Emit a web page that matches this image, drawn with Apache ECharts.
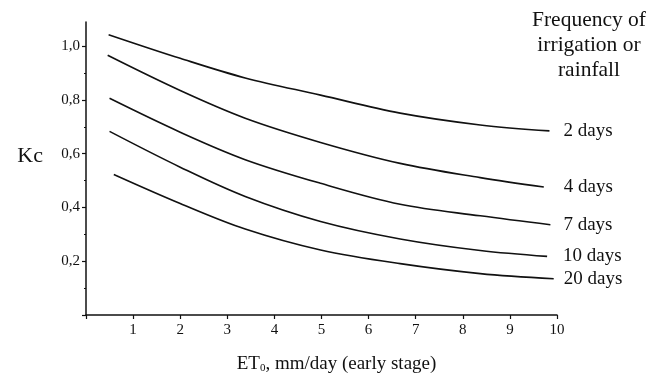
<!DOCTYPE html>
<html>
<head>
<meta charset="utf-8">
<script src="https://cdn.jsdelivr.net/npm/echarts@6/dist/echarts.min.js"></script>
<style>
  html, body { margin: 0; padding: 0; background: #fff; }
  #main { width: 653px; height: 379px; }
</style>
</head>
<body>
<div id="main"></div>
<script>
// 读图得到的数据
var freqNames = ['2 days', '4 days', '7 days', '10 days', '20 days'];
var et0_2d = [0.48, 2.0, 3.38, 4.98, 6.67, 8.37, 9.84];
var kc_2d = [1.043, 0.955, 0.882, 0.818, 0.751, 0.707, 0.685];
var et0_4d = [0.46, 2.0, 3.38, 4.98, 6.67, 8.37, 9.72];
var kc_4d = [0.966, 0.835, 0.732, 0.642, 0.564, 0.511, 0.476];
var et0_7d = [0.50, 2.0, 3.38, 4.98, 6.67, 8.37, 9.86];
var kc_7d = [0.806, 0.680, 0.578, 0.490, 0.412, 0.369, 0.336];
var et0_10d = [0.50, 2.0, 3.38, 4.98, 6.67, 8.37, 9.79];
var kc_10d = [0.683, 0.550, 0.441, 0.348, 0.283, 0.240, 0.218];
var et0_20d = [0.59, 2.0, 3.38, 4.98, 6.67, 8.37, 9.93];
var kc_20d = [0.523, 0.415, 0.320, 0.242, 0.191, 0.154, 0.135];
var yMajorTicks = [0, 0.2, 0.4, 0.6, 0.8, 1.0];
var yMinorTicks = [0.1, 0.3, 0.5, 0.7, 0.9];

var serif = 'Liberation Serif';
var ink = '#111';

var allX = [et0_2d, et0_4d, et0_7d, et0_10d, et0_20d];
var allY = [kc_2d, kc_4d, kc_7d, kc_10d, kc_20d];
var labelGap = [14, 20, 13, 16, 10]; // 标签离线尾的距离

function pairs(xs, ys) {
    var out = [];
    for (var i = 0; i < xs.length; i++) out.push([xs[i], ys[i]]);
    return out;
}

var seriesList = freqNames.map(function (name, i) {
    return {
        name: name,
        type: 'line',
        smooth: 0.35,
        showSymbol: false,
        silent: true,
        data: pairs(allX[i], allY[i]),
        lineStyle: { color: ink, width: 1.6 },
        endLabel: {
            show: true,
            distance: labelGap[i],
            formatter: '{a}',
            color: ink,
            fontFamily: serif,
            fontSize: 19
        }
    };
});

var chart = echarts.init(document.getElementById('main'));
var option = {
    animation: false,
    backgroundColor: '#fff',
    grid: { left: 86, right: 96, top: 22, bottom: 62 },
    graphic: [{
        type: 'text',
        x: 589,
        y: 8,
        style: {
            text: 'Frequency of\nirrigation or\nrainfall',
            align: 'center',
            fill: ink,
            font: '21.5px "Liberation Serif"',
            lineHeight: 25
        }
    }],
    xAxis: {
        type: 'value',
        min: 0,
        max: 10,
        interval: 1,
        name: 'ET{sub|0}, mm/day (early stage)',
        nameLocation: 'middle',
        nameGap: 40,
        nameTextStyle: {
            color: ink,
            fontFamily: serif,
            fontSize: 19,
            padding: [0, 0, 0, 30],
            rich: {
                sub: { fontFamily: serif, fontSize: 11, color: ink, verticalAlign: 'bottom', padding: [8, 0, 0, 0] }
            }
        },
        splitLine: { show: false },
        axisLine: { lineStyle: { color: ink, width: 1.5 } },
        axisTick: { length: 4, lineStyle: { color: ink, width: 1.2 } },
        axisLabel: {
            margin: 8,
            color: ink,
            fontFamily: serif,
            fontSize: 15,
            formatter: function (v) { return v === 0 ? '' : String(v); }
        }
    },
    yAxis: [{
        type: 'value',
        min: 0,
        max: 1.09,
        interval: 0.2,
        name: 'Kc',
        nameLocation: 'middle',
        nameRotate: 0,
        nameGap: 43,
        nameTextStyle: {
            color: ink,
            fontFamily: serif,
            fontSize: 22,
            verticalAlign: 'bottom',
            lineHeight: 24
        },
        splitLine: { show: false },
        axisLine: { lineStyle: { color: ink, width: 1.5 } },
        axisTick: { length: 4, customValues: yMajorTicks, lineStyle: { color: ink, width: 1.2 } },
        axisLabel: {
            margin: 6,
            color: ink,
            fontFamily: serif,
            fontSize: 15,
            customValues: yMajorTicks,
            formatter: function (v) { return v === 0 ? '' : v.toFixed(1).replace('.', ','); }
        }
    }, {
        // 次刻度
        type: 'value',
        position: 'left',
        min: 0,
        max: 1.09,
        splitLine: { show: false },
        axisLine: { show: false },
        axisLabel: { show: false },
        axisTick: { length: 2, customValues: yMinorTicks, lineStyle: { color: ink, width: 1.2 } }
    }],
    series: seriesList
};
chart.setOption(option);
</script>
</body>
</html>
